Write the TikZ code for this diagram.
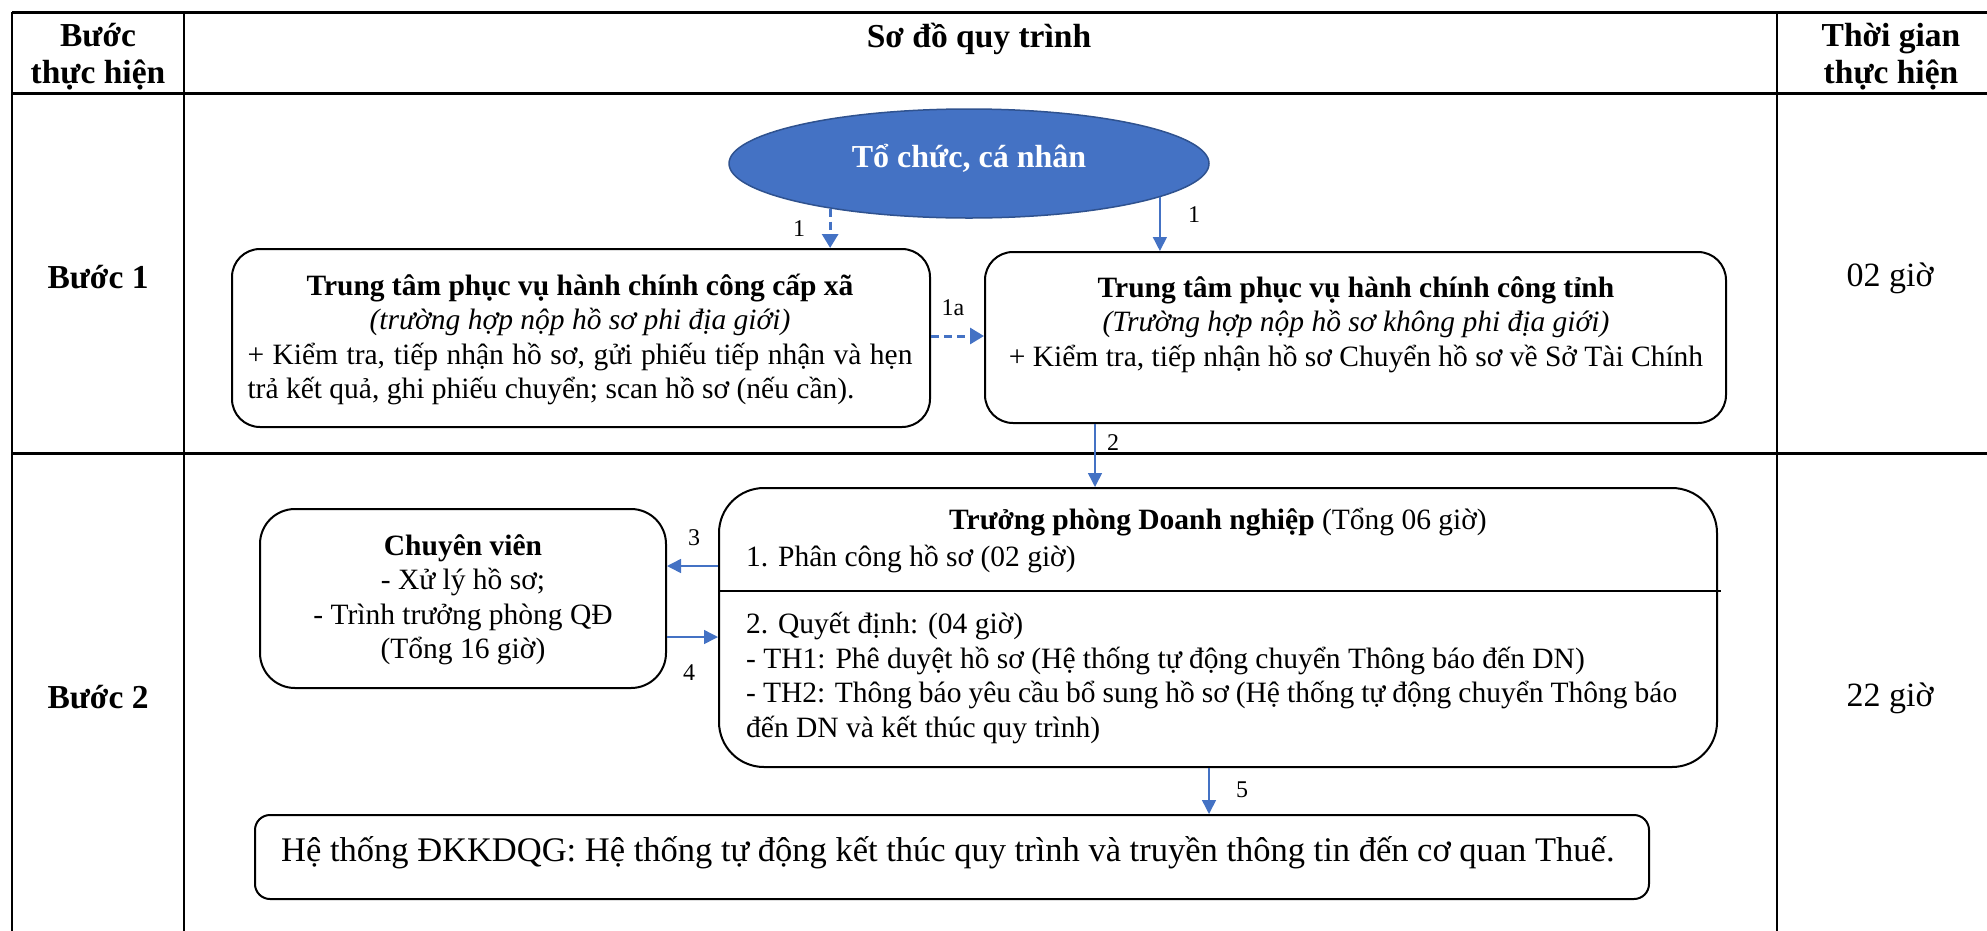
\documentclass[tikz,border=0pt]{standalone}
\usepackage{fontspec}
\setmainfont{Liberation Serif}
\usetikzlibrary{arrows.meta,shapes.geometric}
\definecolor{accent}{HTML}{4472C4}
\definecolor{accentdark}{HTML}{2F528F}
\begin{document}
\begin{tikzpicture}[x=1pt,y=-1pt,
  grid/.style={draw=black, line width=2pt},
  hgrid/.style={draw=black, line width=3pt},
  box/.style={draw=black, line width=2pt, rounded corners=#1, inner sep=0pt, rectangle},
  txt/.style={font=\fontsize{29.5}{34.5}\selectfont, inner sep=0pt},
  head/.style={font=\fontsize{33.5}{37}\selectfont\bfseries, inner sep=0pt, align=center},
  big/.style={font=\fontsize{34}{38}\selectfont, inner sep=0pt},
  flow/.style={draw=accent, line width=1.5pt, -{Triangle[length=14pt,width=14pt]}},
  dflow/.style={draw=accent, line width=3pt, dash pattern=on 8pt off 5pt, -{Triangle[length=14pt,width=16pt]}},
  lbl/.style={font=\fontsize{24}{24}\selectfont, inner sep=0pt}]
\useasboundingbox (0,0) rectangle (1987,930);
% table
\draw[hgrid] (12,12) -- (1990,12);
\draw[hgrid] (12,93) -- (1990,93);
\draw[hgrid] (12,453) -- (1990,453);
\draw[grid] (12,12) -- (12,935);
\draw[grid] (184,12) -- (184,935);
\draw[grid] (1777,12) -- (1777,935);
% headers
\node[head] (h1) at (98,57) {Bước\\thực hiện};
\node[head] (h2) at (979,39) {Sơ đồ quy trình};
\node[head] (h3) at (1891,57) {Thời gian\\thực hiện};
\node[head] (s1) at (98,277) {Bước 1};
\node[head] (s2) at (98,697) {Bước 2};
\node[big] (t1) at (1890,278) {02 giờ};
\node[big] (t2) at (1890,698) {22 giờ};
% shapes
\node[ellipse, fill=accent, draw=accentdark, line width=1.5pt, minimum width=480pt, minimum height=109pt, inner sep=0pt] (O) at (969,163.5) {};
\node[font=\fontsize{32}{36}\selectfont\bfseries, text=white, inner sep=0pt] (Ot) at (969,158) {Tổ chức, cá nhân};
\node[box=28pt, minimum width=698pt, minimum height=178pt] (A) at (581,338) {};
\node[box=28pt, minimum width=741pt, minimum height=171pt] (B) at (1355.5,337.5) {};
\node[box=45pt, minimum width=998pt, minimum height=279pt] (C) at (1218,627.5) {};
\node[box=35pt, minimum width=406pt, minimum height=179pt] (D) at (463,598.5) {};
\node[box=15pt, minimum width=1394pt, minimum height=84pt] (E) at (952,857) {};
\draw[line width=2.5pt] (C.west |- 0,591) -- ([xshift=3pt]C.east |- 0,591);
% texts
\node[txt, align=center] (At) at (580,339.5) {\textbf{Trung tâm phục vụ hành chính công cấp xã}\\
  \textit{(trường hợp nộp hồ sơ phi địa giới)}\\
  \makebox[665pt][s]{+ Kiểm tra, tiếp nhận hồ sơ, gửi phiếu tiếp nhận và hẹn}\\
  \makebox[665pt][l]{trả kết quả, ghi phiếu chuyển; scan hồ sơ (nếu cần).}};
\node[txt, align=center] (Bt) at (1356,324.5) {\textbf{Trung tâm phục vụ hành chính công tỉnh}\\
  \textit{(Trường hợp nộp hồ sơ không phi địa giới)}\\
  + Kiểm tra, tiếp nhận hồ sơ Chuyển hồ sơ về Sở Tài Chính};
\node[txt] (Ct1) at (1218,522) {\textbf{Trưởng phòng Doanh nghiệp} (Tổng 06 giờ)};
\node[txt, anchor=west] (Ct2) at (746,559) {1. Phân công hồ sơ (02 giờ)};
\node[txt, align=left, anchor=north west] (Ct3) at (746,612) {2. Quyết định: (04 giờ)\\
  - TH1: Phê duyệt hồ sơ (Hệ thống tự động chuyển Thông báo đến DN)\\
  \makebox[931pt][s]{- TH2: Thông báo yêu cầu bổ sung hồ sơ (Hệ thống tự động chuyển Thông báo}\\
  đến DN và kết thúc quy trình)};
\node[txt, align=center] (Dt) at (463,600) {\textbf{Chuyên viên}\\- Xử lý hồ sơ;\\- Trình trưởng phòng QĐ\\(Tổng 16 giờ)};
\node[font=\fontsize{34.5}{38}\selectfont, inner sep=0pt, anchor=west] (Et) at (281,853) {Hệ thống ĐKKDQG: Hệ thống tự động kết thúc quy trình và truyền thông tin đến cơ quan Thuế.};
% connectors
\draw[dflow] (O.198.4) -- (O.198.4 |- A.north);
\draw[flow] (O.350.3) -- (O.350.3 |- B.north);
\draw[dflow] (A.east |- 0,336) -- (B.west |- 0,336);
\draw[flow] (B.south -| 1095,0) -- (C.north -| 1095,0);
\draw[flow] (C.west |- 0,566) -- (D.east |- 0,566);
\draw[flow] (D.east |- 0,637) -- (C.west |- 0,637);
\draw[flow] (C.south -| 1209,0) -- (E.north -| 1209,0);
% labels
\node[lbl] (l1) at (799,229) {1};
\node[lbl] (l2) at (1194,215) {1};
\node[lbl] (l3) at (953,308) {1a};
\node[lbl] (l4) at (1113,443) {2};
\node[lbl] (l5) at (694,538) {3};
\node[lbl] (l6) at (689,673) {4};
\node[lbl] (l7) at (1242,790) {5};
\end{tikzpicture}
\end{document}
